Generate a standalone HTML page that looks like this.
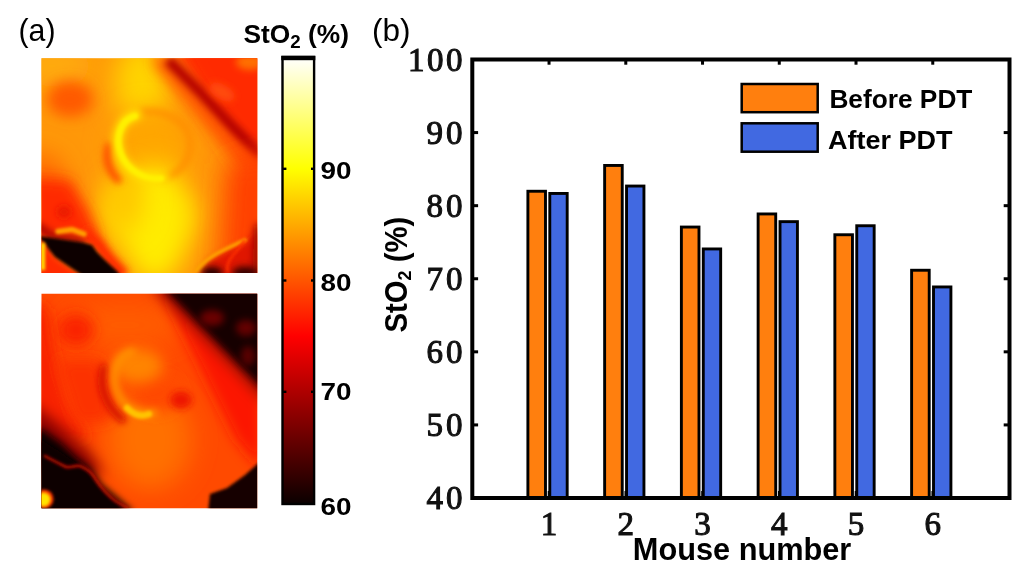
<!DOCTYPE html>
<html lang="en"><head><meta charset="utf-8"><title>StO2 before and after PDT</title>
<style>
html,body{margin:0;padding:0;background:#fff;}
body{width:1024px;height:587px;overflow:hidden;}
svg{display:block;}
.sb{font-family:"Liberation Sans",sans-serif;font-weight:700;fill:#000;}
.sr{font-family:"Liberation Sans",sans-serif;font-weight:400;fill:#000;}
.tk{font-family:"Liberation Serif",serif;font-weight:400;fill:#111;stroke:#111;stroke-width:1.05px;}
</style></head><body>
<svg width="1024" height="587" viewBox="0 0 1024 587">
<defs>
<linearGradient id="hot" x1="0" y1="0" x2="0" y2="1">
<stop offset="0" stop-color="#ffffff"/>
<stop offset="0.25" stop-color="#ffff00"/>
<stop offset="0.625" stop-color="#ff0000"/>
<stop offset="1" stop-color="#0a0000"/>
</linearGradient>
<filter id="b2" filterUnits="userSpaceOnUse" x="0" y="0" width="300" height="587"><feGaussianBlur stdDeviation="1.8"/></filter>
<filter id="b4" filterUnits="userSpaceOnUse" x="0" y="0" width="300" height="587"><feGaussianBlur stdDeviation="3.5"/></filter>
<filter id="b8" filterUnits="userSpaceOnUse" x="0" y="0" width="300" height="587"><feGaussianBlur stdDeviation="7"/></filter>
<filter id="b14" filterUnits="userSpaceOnUse" x="-40" y="0" width="380" height="587"><feGaussianBlur stdDeviation="13"/></filter>
<filter id="b20" filterUnits="userSpaceOnUse" x="-60" y="-40" width="420" height="667"><feGaussianBlur stdDeviation="20"/></filter>
<clipPath id="c1"><rect x="41.5" y="58.3" width="215.7" height="214.7"/></clipPath>
<clipPath id="c2"><rect x="41.5" y="293.8" width="215.7" height="214.4"/></clipPath>

</defs>
<rect x="0" y="0" width="1024" height="587" fill="#ffffff"/>
<text class="sr" x="18.5" y="40.6" font-size="32" textLength="37" lengthAdjust="spacingAndGlyphs">(a)</text>
<text class="sr" x="372" y="40.6" font-size="32" textLength="38.5" lengthAdjust="spacingAndGlyphs">(b)</text>
<g id="heat1" clip-path="url(#c1)">
<rect x="30" y="48" width="240" height="236" fill="#ff9808"/>
<!-- top-left warm -->
<ellipse cx="52" cy="66" rx="40" ry="20" fill="#ffac10" filter="url(#b14)"/>
<!-- yellow column top centre -->
<ellipse cx="142" cy="84" rx="28" ry="42" fill="#ffd400" filter="url(#b14)"/>
<!-- big yellow lower centre -->
<ellipse cx="148" cy="215" rx="50" ry="34" fill="#ffd000" filter="url(#b14)"/>
<ellipse cx="150" cy="150" rx="40" ry="40" fill="#ffa600" filter="url(#b14)"/>
<ellipse cx="155" cy="224" rx="33" ry="60" fill="#ffec00" filter="url(#b14)"/>
<ellipse cx="124" cy="200" rx="20" ry="30" fill="#ffc800" filter="url(#b14)"/>
<!-- orange-red blob upper left -->
<ellipse cx="70" cy="99" rx="23" ry="18" fill="#ff5a00" filter="url(#b8)"/>
<!-- left red region -->
<path d="M30 150 L56 160 L70 190 L30 200 Z" fill="#ff6000" filter="url(#b14)"/>
<path d="M30 178 L70 180 L88 210 L100 240 L30 242 Z" fill="#ff2a00" filter="url(#b8)"/>
<ellipse cx="64" cy="212" rx="7" ry="6" fill="#e81800" filter="url(#b4)"/>
<!-- top-right red region -->
<path d="M160 30 L290 30 L290 230 L262 196 L222 128 Z" fill="#ff3400" filter="url(#b14)"/>
<path d="M176 44 L280 44 L280 176 L254 160 L216 110 Z" fill="#ff2c00" filter="url(#b8)"/>
<path d="M158 58 L192 96 L224 134 L258 166" fill="none" stroke="#ff5200" stroke-width="14" filter="url(#b8)"/>
<path d="M168 60 L200 92 L232 126 L262 156" fill="none" stroke="#b40400" stroke-width="10.5" filter="url(#b4)"/>
<ellipse cx="222" cy="92" rx="14" ry="7" fill="#ff4c10" filter="url(#b4)" transform="rotate(30 222 92)"/>
<ellipse cx="250" cy="62" rx="14" ry="8" fill="#ff7000" filter="url(#b4)"/>
<!-- right edge lower red-orange -->
<path d="M226 164 L280 152 L280 290 L218 290 Z" fill="#ff4000" filter="url(#b14)"/>
<!-- ring -->
<path d="M140 112 C170 108 194 126 190 150 C187 166 176 176 162 178" fill="none" stroke="#ff8a00" stroke-width="5" filter="url(#b4)"/>
<path d="M109 146 C105 158 108 170 118 180" fill="none" stroke="#ff4400" stroke-width="7" stroke-linecap="round" filter="url(#b4)"/>
<path d="M136 115 C120 119 114 138 120 155 C126 171 143 181 164 178" fill="none" stroke="#ffe000" stroke-width="11" stroke-linecap="round" filter="url(#b4)"/>
<path d="M135 116 C120 120 115 138 121 154 C127 169 143 180 161 178.5" fill="none" stroke="#fff000" stroke-width="6" stroke-linecap="round" filter="url(#b2)"/>
<!-- black bottom-left -->
<path d="M84 232 L98 244 L108 258 L124 276" fill="none" stroke="#ff2a00" stroke-width="13" filter="url(#b4)"/>
<path d="M30 236 L46 240 L56 256 L70 266 L88 278 L88 292 L30 292 Z" fill="#ff2c00" filter="url(#b4)"/>
<path d="M34 224 L52 236 L84 242" fill="none" stroke="#a00400" stroke-width="7" filter="url(#b4)"/>
<path d="M36 236 L49 237.5 L66 240 L83 242.5 L92 245 L97 252 L106 261 L117 271 L122 278 L86 278 L66 264.5 L55 257 L49 249.5 L44 242 Z" fill="#0c0000" filter="url(#b2)"/>
<path d="M58 231.5 L72 229.5 L84 234" fill="none" stroke="#ffa000" stroke-width="5.5" stroke-linecap="round" filter="url(#b2)"/>
<rect x="40.5" y="243" width="4.6" height="27" fill="#ffe000" filter="url(#b2)"/>
<!-- dark bottom-right -->
<path d="M197 280 L208 260 L228 250 L246 242 L262 228 L262 280 Z" fill="#e01400" filter="url(#b4)"/>
<path d="M254 226 L262 222 L262 280 L252 280 Z" fill="#a00800" filter="url(#b4)"/>
<ellipse cx="212" cy="273" rx="11" ry="6" fill="#200000" filter="url(#b4)"/>
<ellipse cx="245" cy="273" rx="13" ry="6.5" fill="#300000" filter="url(#b4)"/>
<path d="M196 271 C206 256 228 248 245 240" fill="none" stroke="#ffa400" stroke-width="4" stroke-linecap="round" filter="url(#b2)"/>
<path d="M245 240 C238 252 224 260 228 272" fill="none" stroke="#ff3000" stroke-width="2.5" filter="url(#b2)"/>
</g>
<g id="heat2" clip-path="url(#c2)">
<rect x="30" y="284" width="240" height="236" fill="#ff4a00"/>
<!-- brighter centre -->
<ellipse cx="150" cy="440" rx="42" ry="50" fill="#ff7000" filter="url(#b14)"/>
<ellipse cx="125" cy="325" rx="60" ry="22" fill="#ff5c00" filter="url(#b14)"/>
<ellipse cx="156" cy="392" rx="24" ry="20" fill="#ff4a00" filter="url(#b8)"/>
<!-- red blob upper-left -->
<ellipse cx="76" cy="330" rx="18" ry="16" fill="#fa2000" filter="url(#b8)"/>
<!-- left edge red -->
<path d="M30 300 L48 310 L54 350 L66 400 L90 440 L30 440 Z" fill="#f82000" filter="url(#b8)"/>
<path d="M56 360 L100 360 L112 420 L76 424 Z" fill="#fc3000" filter="url(#b8)"/>
<!-- right red -->
<path d="M160 286 L262 392 L262 470 L236 440 L206 380 Z" fill="#fc1800" filter="url(#b8)"/>
<!-- top-right dark -->
<path d="M150 284 L270 406 L270 280 Z" fill="#900000" filter="url(#b8)"/>
<path d="M160 284 L270 396 L270 280 Z" fill="#160000" filter="url(#b4)"/>
<ellipse cx="212" cy="318" rx="12" ry="8" fill="#6a0000" filter="url(#b4)"/>
<ellipse cx="246" cy="328" rx="10" ry="8" fill="#640000" filter="url(#b4)"/>
<ellipse cx="248" cy="356" rx="7" ry="10" fill="#5a0000" filter="url(#b4)"/>
<!-- ring -->
<path d="M104 368 C99 386 105 404 122 419" fill="none" stroke="#d41000" stroke-width="8" stroke-linecap="round" filter="url(#b4)"/>
<ellipse cx="138" cy="366" rx="25" ry="17" fill="#ff8400" filter="url(#b8)"/>
<path d="M132 352 C116 356 110 376 118 394 C124 408 138 416 154 413" fill="none" stroke="#ff9000" stroke-width="8" stroke-linecap="round" filter="url(#b4)"/>
<path d="M127 408 C134 415 142 417 149 414" fill="none" stroke="#ffc400" stroke-width="6.5" stroke-linecap="round" filter="url(#b2)"/>
<ellipse cx="181" cy="400" rx="11" ry="9" fill="#ee1400" filter="url(#b4)"/>
<!-- bottom-left dark -->
<path d="M30 402 L58 424 L90 452 L104 476 L30 470 Z" fill="#8a0000" filter="url(#b8)"/>
<path d="M30 428 L43 430 L61 443 L77 458 L90 468 L101 484 L119 499 L134 512 L30 512 Z" fill="#0e0000" filter="url(#b4)"/>
<path d="M30 440 L43 441 L60 452 L76 463 L88 473 L99 488 L116 503 L128 514 L30 514 Z" fill="#0c0000" filter="url(#b2)"/>
<path d="M44 455.5 C50 459 60 464 66 467 C72 468 74 465 80 466 C90 470 94 476 96 480 C100 486 106 494 116 501.5 C120 504 124 506 128 508" fill="none" stroke="#c80c00" stroke-width="2.6" filter="url(#b2)"/>
<circle cx="44" cy="499" r="9.5" fill="#ff3000" filter="url(#b2)"/>
<circle cx="43.5" cy="499.5" r="7" fill="#ffe400" filter="url(#b2)"/>
<!-- bottom-right dark -->
<path d="M208 512 L210 494 L227 488 L245 475 L262 460 L262 512 Z" fill="#120000" filter="url(#b2)"/>
</g>

<g id="colorbar">
<rect x="282.5" y="57" width="31.6" height="447" fill="url(#hot)" stroke="#000" stroke-width="2.4"/>
<rect x="281.3" y="55.8" width="34" height="4.4" fill="#000"/>
<rect x="283" y="167.60000000000002" width="3.4" height="2.4" fill="#000"/><rect x="311" y="167.60000000000002" width="3.4" height="2.4" fill="#000"/>
<rect x="283" y="279.3" width="3.4" height="2.4" fill="#000"/><rect x="311" y="279.3" width="3.4" height="2.4" fill="#000"/>
<rect x="283" y="390.6" width="3.4" height="2.4" fill="#000"/><rect x="311" y="390.6" width="3.4" height="2.4" fill="#000"/>
<text class="sb" x="243.5" y="43.4" font-size="26" textLength="105.5" lengthAdjust="spacingAndGlyphs">StO<tspan font-size="18.5" dy="4.6">2</tspan><tspan dy="-4.6"> (%)</tspan></text>
<text class="sb" x="320.6" y="179.2" font-size="24.3" textLength="31" lengthAdjust="spacingAndGlyphs">90</text>
<text class="sb" x="320.6" y="290.9" font-size="24.3" textLength="31" lengthAdjust="spacingAndGlyphs">80</text>
<text class="sb" x="320.6" y="399.6" font-size="24.3" textLength="31" lengthAdjust="spacingAndGlyphs">70</text>
<text class="sb" x="320.6" y="515.4" font-size="24.3" textLength="31" lengthAdjust="spacingAndGlyphs">60</text>
</g>
<g id="chart">
<rect x="547.74" y="491.0" width="2.6" height="7" fill="#000"/>
<rect x="624.49" y="491.0" width="2.6" height="7" fill="#000"/>
<rect x="701.23" y="491.0" width="2.6" height="7" fill="#000"/>
<rect x="777.97" y="491.0" width="2.6" height="7" fill="#000"/>
<rect x="854.71" y="491.0" width="2.6" height="7" fill="#000"/>
<rect x="931.46" y="491.0" width="2.6" height="7" fill="#000"/>
<rect x="527.89" y="191.25" width="17.60" height="306.75" fill="#ff7f0e" stroke="#000" stroke-width="2.9"/>
<rect x="549.79" y="193.45" width="17.40" height="304.55" fill="#4169e1" stroke="#000" stroke-width="2.9"/>
<rect x="604.64" y="165.45" width="17.60" height="332.55" fill="#ff7f0e" stroke="#000" stroke-width="2.9"/>
<rect x="626.54" y="186.05" width="17.40" height="311.95" fill="#4169e1" stroke="#000" stroke-width="2.9"/>
<rect x="681.38" y="227.05" width="17.60" height="270.95" fill="#ff7f0e" stroke="#000" stroke-width="2.9"/>
<rect x="703.28" y="248.95" width="17.40" height="249.05" fill="#4169e1" stroke="#000" stroke-width="2.9"/>
<rect x="758.12" y="213.95" width="17.60" height="284.05" fill="#ff7f0e" stroke="#000" stroke-width="2.9"/>
<rect x="780.02" y="221.65" width="17.40" height="276.35" fill="#4169e1" stroke="#000" stroke-width="2.9"/>
<rect x="834.86" y="234.75" width="17.60" height="263.25" fill="#ff7f0e" stroke="#000" stroke-width="2.9"/>
<rect x="856.76" y="225.75" width="17.40" height="272.25" fill="#4169e1" stroke="#000" stroke-width="2.9"/>
<rect x="911.61" y="270.25" width="17.60" height="227.75" fill="#ff7f0e" stroke="#000" stroke-width="2.9"/>
<rect x="933.51" y="286.95" width="17.40" height="211.05" fill="#4169e1" stroke="#000" stroke-width="2.9"/>
<rect x="472.3" y="59.5" width="537.2" height="438.5" fill="none" stroke="#000" stroke-width="4"/>
<rect x="547.54" y="59.5" width="3" height="5.2" fill="#000"/>
<rect x="624.29" y="59.5" width="3" height="5.2" fill="#000"/>
<rect x="701.03" y="59.5" width="3" height="5.2" fill="#000"/>
<rect x="777.77" y="59.5" width="3" height="5.2" fill="#000"/>
<rect x="854.51" y="59.5" width="3" height="5.2" fill="#000"/>
<rect x="931.26" y="59.5" width="3" height="5.2" fill="#000"/>
<rect x="472.3" y="131.08" width="5.8" height="3" fill="#000"/><rect x="1003.7" y="131.08" width="5.8" height="3" fill="#000"/>
<rect x="472.3" y="204.17" width="5.8" height="3" fill="#000"/><rect x="1003.7" y="204.17" width="5.8" height="3" fill="#000"/>
<rect x="472.3" y="277.25" width="5.8" height="3" fill="#000"/><rect x="1003.7" y="277.25" width="5.8" height="3" fill="#000"/>
<rect x="472.3" y="350.33" width="5.8" height="3" fill="#000"/><rect x="1003.7" y="350.33" width="5.8" height="3" fill="#000"/>
<rect x="472.3" y="423.42" width="5.8" height="3" fill="#000"/><rect x="1003.7" y="423.42" width="5.8" height="3" fill="#000"/>
<text class="tk" x="408" y="70.50" font-size="33" textLength="54.5" lengthAdjust="spacing">100</text>
<text class="tk" x="426.6" y="143.78" font-size="33" textLength="36" lengthAdjust="spacing">90</text>
<text class="tk" x="426.6" y="216.87" font-size="33" textLength="36" lengthAdjust="spacing">80</text>
<text class="tk" x="426.6" y="289.95" font-size="33" textLength="36" lengthAdjust="spacing">70</text>
<text class="tk" x="426.6" y="363.03" font-size="33" textLength="36" lengthAdjust="spacing">60</text>
<text class="tk" x="426.6" y="436.12" font-size="33" textLength="36" lengthAdjust="spacing">50</text>
<text class="tk" x="426.6" y="509.20" font-size="33" textLength="36" lengthAdjust="spacing">40</text>
<text class="tk" x="549.04" y="534.6" font-size="33" text-anchor="middle">1</text>
<text class="tk" x="625.79" y="534.6" font-size="33" text-anchor="middle">2</text>
<text class="tk" x="702.53" y="534.6" font-size="33" text-anchor="middle">3</text>
<text class="tk" x="779.27" y="534.6" font-size="33" text-anchor="middle">4</text>
<text class="tk" x="856.01" y="534.6" font-size="33" text-anchor="middle">5</text>
<text class="tk" x="932.76" y="534.6" font-size="33" text-anchor="middle">6</text>
<text class="sb" x="632.8" y="559.9" font-size="30.8" textLength="218.5" lengthAdjust="spacingAndGlyphs">Mouse number</text>
<text class="sb" transform="translate(406.8 332.6) rotate(-90)" x="0" y="0" font-size="31" textLength="116" lengthAdjust="spacingAndGlyphs">StO<tspan font-size="19" dy="4.5">2</tspan><tspan dy="-4.5"> (%)</tspan></text>
<rect x="741.7" y="84" width="76" height="28.2" fill="#ff7f0e" stroke="#000" stroke-width="2.5"/>
<rect x="741.7" y="123.3" width="76" height="28.4" fill="#4169e1" stroke="#000" stroke-width="2.5"/>
<text class="sb" x="829.4" y="107.9" font-size="26.3" textLength="143" lengthAdjust="spacingAndGlyphs">Before PDT</text>
<text class="sb" x="828" y="148.9" font-size="26.3" textLength="124.5" lengthAdjust="spacingAndGlyphs">After PDT</text>
</g>
</svg>
</body></html>
